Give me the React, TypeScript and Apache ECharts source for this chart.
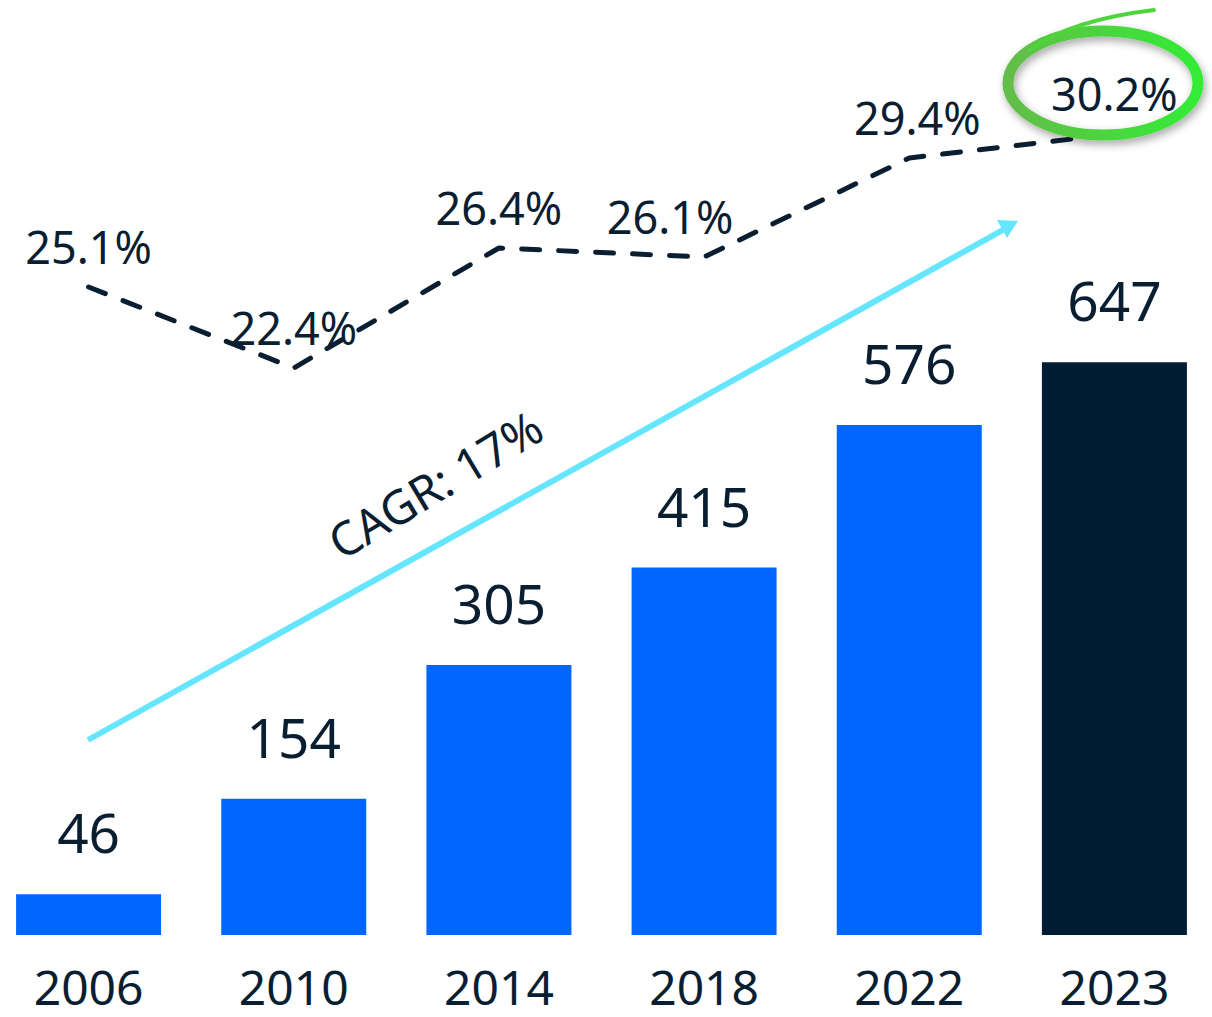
import React, { useEffect, useRef } from "react";
import * as echarts from "echarts";

const years = ["2006", "2010", "2014", "2018", "2022", "2023"];
const revenue = [46, 154, 305, 415, 576, 647];
const marginPct = [25.1, 22.4, 26.4, 26.1, 29.4, 30.2];
const labelShiftX = [0, 0, 0, -34, 8, 0];
const highlightIndex = 5;
const cagrText = "CAGR: 17%";

const TEXT = "#0a1e32";
const BLUE = "#0066ff";
const DARK = "#021d33";
const CYAN = "#66e5ff";
const FONT = "'Noto Sans', 'Open Sans', sans-serif";
const SHIFT = 14; // container is shifted left by this many px

export default function App() {
  const ref = useRef<HTMLDivElement>(null);
  useEffect(() => {
    if (!ref.current) return;
    const chart = echarts.init(ref.current, null, { renderer: "svg" });
    const green = new echarts.graphic.LinearGradient(0, 0, 1, 0, [
      { offset: 0, color: "#63bd48" },
      { offset: 1, color: "#33ec36" },
    ]);
    const X = (v: number) => v + SHIFT;
    chart.setOption({
      animation: false,
      backgroundColor: "#ffffff",
      grid: { left: 0, right: 0, top: 0, bottom: 82, containLabel: false },
      xAxis: {
        type: "category",
        data: years,
        axisLine: { show: false },
        axisTick: { show: false },
        axisLabel: {
          color: TEXT,
          fontSize: 48,
          lineHeight: 48,
          fontFamily: FONT,
          margin: 27,
        },
      },
      yAxis: [
        { type: "value", min: 0, max: 1056, show: false, splitLine: { show: false } },
        { type: "value", min: 3.5, max: 34.667, show: false, splitLine: { show: false } },
      ],
      series: [
        {
          type: "bar",
          barWidth: 145,
          data: revenue.map((v, i) => ({
            value: v,
            itemStyle: { color: i === highlightIndex ? DARK : BLUE },
          })),
          label: {
            show: true,
            position: "top",
            distance: 35,
            color: TEXT,
            fontSize: 55,
            fontFamily: FONT,
          },
          z: 2,
        },
        {
          type: "line",
          yAxisIndex: 1,
          data: marginPct.map((v, i) => ({
            value: v,
            label: { offset: [labelShiftX[i], 0] },
          })),
          symbol: "circle",
          symbolSize: 2,
          itemStyle: { color: "transparent", borderWidth: 0 },
          lineStyle: {
            color: TEXT,
            width: 5,
            type: [18, 19],
            cap: "round",
          },
          label: {
            show: true,
            position: "top",
            distance: 17,
            color: TEXT,
            fontSize: 45,
            fontFamily: FONT,
            formatter: (p: any) => `${Number(p.value).toFixed(1)}%`,
          },
          z: 3,
        },
      ],
      graphic: [
        {
          type: "line",
          shape: { x1: X(88), y1: 740, x2: X(1010), y2: 226 },
          style: { stroke: CYAN, lineWidth: 6 },
          z: 1,
        },
        {
          type: "polygon",
          shape: { points: [[X(1018), 221], [X(997), 220], [X(1007), 238]] },
          style: { fill: CYAN },
          z: 1,
        },
        {
          type: "text",
          x: X(435),
          y: 484,
          rotation: (31 * Math.PI) / 180,
          style: {
            text: cagrText,
            fill: TEXT,
            fontSize: 47,
            fontFamily: FONT,
            align: "center",
            verticalAlign: "middle",
          },
          z: 5,
        },
        {
          type: "ellipse",
          shape: { cx: X(1103), cy: 83, rx: 95, ry: 52 },
          style: {
            fill: "none",
            stroke: green,
            lineWidth: 11,
            shadowBlur: 8,
            shadowColor: "rgba(0,0,0,0.35)",
            shadowOffsetX: 2,
            shadowOffsetY: 4,
          },
          z: 10,
        },
        {
          type: "bezierCurve",
          shape: { x1: X(1030), y1: 50, cpx1: X(1070), cpy1: 20, x2: X(1154), y2: 10 },
          style: { fill: "none", stroke: "#4fd43c", lineWidth: 4, lineCap: "round" },
          z: 10,
        },
      ],
    });
    return () => chart.dispose();
  }, []);
  return (
    <div
      ref={ref}
      style={{ position: "absolute", left: -SHIFT, top: 0, width: 1231, height: 1017 }}
    />
  );
}
